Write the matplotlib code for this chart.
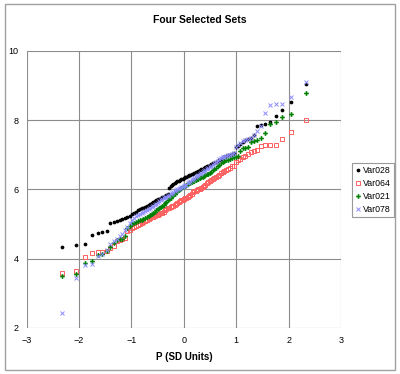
#!/usr/bin/env python3
import matplotlib
matplotlib.use('Agg')
import matplotlib.pyplot as plt
from matplotlib.patches import Rectangle

# normal quantiles for p = 0.01 .. 0.99
q_pos = [0.025, 0.050, 0.075, 0.100, 0.126, 0.151, 0.176, 0.202, 0.228, 0.253,
         0.279, 0.305, 0.332, 0.358, 0.385, 0.412, 0.440, 0.468, 0.496, 0.524,
         0.553, 0.583, 0.613, 0.643, 0.674, 0.706, 0.739, 0.772, 0.806, 0.842,
         0.878, 0.915, 0.954, 0.994, 1.036, 1.080, 1.126, 1.175, 1.227, 1.282,
         1.341, 1.405, 1.476, 1.555, 1.645, 1.751, 1.881, 2.054, 2.326]
p_sd = [-v for v in reversed(q_pos)] + [0.0] + q_pos

var028 = [4.35, 4.39, 4.41, 4.69, 4.74, 4.76, 4.80, 5.03, 5.06, 5.09,
          5.12, 5.14, 5.16, 5.19, 5.24, 5.30, 5.33, 5.36, 5.39, 5.42,
          5.45, 5.47, 5.50, 5.53, 5.56, 5.59, 5.62, 5.64, 5.67, 5.69,
          5.71, 5.73, 5.75, 5.77, 5.79, 5.81, 5.83, 5.86, 6.05, 6.09,
          6.12, 6.15, 6.18, 6.21, 6.23, 6.25, 6.27, 6.29, 6.31, 6.33,
          6.35, 6.36, 6.38, 6.40, 6.42, 6.44, 6.45, 6.47, 6.49, 6.51,
          6.53, 6.56, 6.58, 6.60, 6.62, 6.64, 6.66, 6.68, 6.70, 6.72,
          6.75, 6.77, 6.80, 6.83, 6.86, 6.89, 6.92, 6.94, 6.96, 6.98,
          7.00, 7.02, 7.05, 7.22, 7.26, 7.32, 7.38, 7.41, 7.44, 7.47,
          7.58, 7.84, 7.86, 7.88, 7.95, 8.12, 8.29, 8.52, 9.05]

var064 = [3.58, 3.65, 4.06, 4.15, 4.18, 4.20, 4.23, 4.30, 4.38, 4.50,
          4.55, 4.57, 4.59, 4.80, 4.84, 4.88, 4.92, 4.95, 4.98, 5.01,
          5.04, 5.06, 5.09, 5.12, 5.15, 5.17, 5.19, 5.21, 5.23, 5.25,
          5.27, 5.29, 5.31, 5.33, 5.36, 5.39, 5.42, 5.45, 5.47, 5.49,
          5.51, 5.53, 5.55, 5.57, 5.60, 5.63, 5.66, 5.68, 5.70, 5.72,
          5.74, 5.76, 5.79, 5.82, 5.85, 5.88, 5.91, 5.94, 5.96, 5.98,
          6.00, 6.02, 6.05, 6.08, 6.11, 6.14, 6.17, 6.20, 6.23, 6.26,
          6.29, 6.32, 6.35, 6.38, 6.42, 6.46, 6.50, 6.54, 6.57, 6.60,
          6.63, 6.66, 6.68, 6.80, 6.85, 6.88, 6.92, 6.96, 7.03, 7.07,
          7.11, 7.14, 7.24, 7.28, 7.28, 7.28, 7.46, 7.66, 8.00]

var021 = [3.50, 3.55, 3.87, 3.94, 4.10, 4.13, 4.23, 4.35, 4.44, 4.53,
          4.56, 4.58, 4.66, 4.88, 4.95, 5.00, 5.04, 5.07, 5.09, 5.11,
          5.13, 5.15, 5.17, 5.20, 5.23, 5.27, 5.30, 5.33, 5.36, 5.39,
          5.42, 5.45, 5.48, 5.52, 5.56, 5.60, 5.64, 5.68, 5.72, 5.76,
          5.80, 5.84, 5.88, 5.92, 5.96, 5.99, 6.02, 6.05, 6.07, 6.09,
          6.11, 6.13, 6.15, 6.17, 6.19, 6.21, 6.23, 6.25, 6.27, 6.29,
          6.31, 6.33, 6.35, 6.37, 6.39, 6.41, 6.43, 6.45, 6.48, 6.51,
          6.55, 6.59, 6.63, 6.67, 6.71, 6.75, 6.78, 6.81, 6.84, 6.86,
          6.88, 6.90, 6.92, 6.94, 6.96, 7.12, 7.18, 7.20, 7.21, 7.38,
          7.40, 7.42, 7.47, 7.63, 7.90, 7.95, 8.10, 8.16, 8.77]

var078 = [2.44, 3.45, 3.82, 3.84, 4.08, 4.14, 4.24, 4.42, 4.50, 4.58,
          4.64, 4.72, 4.82, 4.92, 5.04, 5.13, 5.18, 5.22, 5.26, 5.29,
          5.32, 5.35, 5.38, 5.41, 5.44, 5.47, 5.50, 5.53, 5.56, 5.59,
          5.62, 5.65, 5.68, 5.71, 5.74, 5.77, 5.79, 5.81, 5.84, 5.87,
          5.90, 5.93, 5.95, 5.98, 6.00, 6.02, 6.04, 6.06, 6.08, 6.10,
          6.12, 6.14, 6.17, 6.20, 6.23, 6.26, 6.29, 6.32, 6.35, 6.38,
          6.41, 6.44, 6.47, 6.50, 6.53, 6.56, 6.59, 6.62, 6.65, 6.68,
          6.71, 6.75, 6.79, 6.83, 6.87, 6.90, 6.92, 6.94, 6.96, 6.98,
          7.00, 7.02, 7.04, 7.23, 7.27, 7.33, 7.39, 7.42, 7.45, 7.48,
          7.56, 7.68, 7.83, 8.19, 8.42, 8.47, 8.47, 8.66, 9.10]

for s in (var028, var064, var021, var078):
  assert len(s) == len(p_sd)

plt.rcParams['font.family'] = ['Liberation Sans', 'DejaVu Sans']

fig = plt.figure(figsize=(4.0, 3.74), dpi=100)
fig.patches.append(Rectangle((0.012, 0.012), 0.976, 0.976, transform=fig.transFigure,
                             fill=False, edgecolor='#a0a0a0', linewidth=1.0))
ax = fig.add_axes([0.0667, 0.123, 0.7858, 0.7414])

ax.plot(p_sd, var028, linestyle='', marker='o', markersize=2.7, color='black',
        markeredgewidth=0, label='Var028')
ax.plot(p_sd, var064, linestyle='', marker='s', markersize=3.3, markerfacecolor='none',
        markeredgecolor='#ff6060', markeredgewidth=0.7, label='Var064')
ax.plot(p_sd, var021, linestyle='', marker='P', markersize=3.4, color='#008000',
        markeredgewidth=0, label='Var021')
ax.plot(p_sd, var078, linestyle='', marker='x', markersize=2.9, color='#8c8cff',
        markeredgewidth=0.7, label='Var078')

ax.set_xlim(-3, 3)
ax.set_ylim(2, 10)
ax.set_xticks([-3, -2, -1, 0, 1, 2, 3])
ax.set_yticks([2, 4, 6, 8, 10])
ax.grid(True, color='#8c8c8c', linewidth=0.8)
ax.set_axisbelow(True)
for side in ax.spines.values():
  side.set_visible(False)
ax.tick_params(length=0, labelsize=6.5, pad=6)

fig.text(0.5, 0.947, 'Four Selected Sets', fontsize=7.5, fontweight='bold',
         ha='center', va='center')
ax.set_xlabel('P (SD Units)', fontsize=7, fontweight='bold', labelpad=5)

leg = ax.legend(loc='upper left', bbox_to_anchor=(1.036, 0.595), fontsize=6.3,
                frameon=True, fancybox=False, edgecolor='#808080', borderpad=0.35,
                handlelength=0.6, handletextpad=0.25, labelspacing=0.45,
                borderaxespad=0)
leg.get_frame().set_linewidth(0.8)

plt.savefig('out.png', dpi=100)
